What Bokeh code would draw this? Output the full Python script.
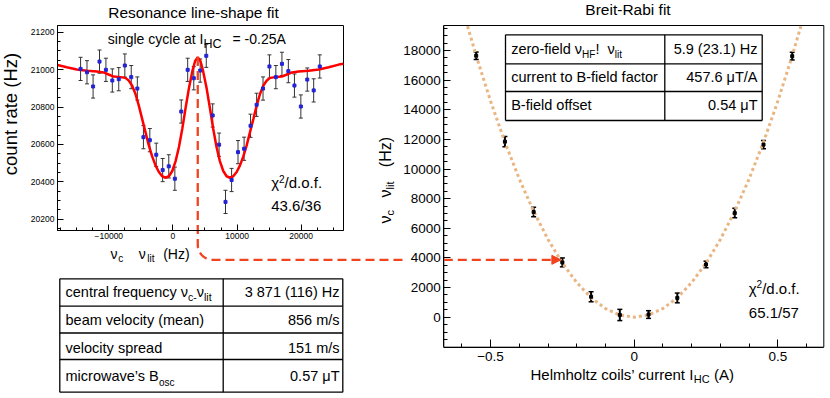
import math
from bokeh.plotting import figure
from bokeh.models import (Range1d, Label, Arrow, NormalHead, Whisker, TeeHead,
                          ColumnDataSource, SingleIntervalTicker, LinearAxis)
from bokeh.embed import file_html
from bokeh.resources import INLINE

FONT = "Liberation Sans"

# ---------------- left panel: resonance line shape ----------------
res_freq = [-14400, -13400, -12450, -11450, -10450, -9450, -8450, -7500, -6500, -5550,
            -4600, -3600, -2600, -1600, -650, 300, 1300, 2300, 3250, 4250,
            5200, 6200, 7200, 8200, 9150, 10150, 11100, 12100, 13050, 14050,
            15050, 16050, 17000, 18000, 18950, 19950, 20950, 21950, 22900]
res_rate = [21004, 20986, 20910, 21043, 20999, 20942, 20949, 21022, 20960, 20899,
            20639, 20623, 20545, 20463, 20483, 20417, 20776, 20999, 20954, 20995,
            21074, 20755, 20599, 20293, 20410, 20559, 20577, 20700, 20812, 20899,
            21017, 20960, 21031, 20992, 20915, 20803, 20947, 20889, 21017]
res_err = [62] * len(res_freq)

fit_freq = [-18000, -16550, -14990, -13420, -11850, -10810, -10030, -9240, -8200, -7420,
            -6890, -6370, -5850, -5330, -4800, -4280, -3760, -3240, -2720, -2190,
            -1670, -1150, -630, -100, 420, 940, 1460, 1980, 2510, 3030, 3450, 3871,
            4300, 4710, 5240, 5760, 6280, 6800, 7320, 7850, 8370, 8890,
            9410, 9940, 10460, 10980, 11500, 12020, 12550, 13070, 13590, 14110,
            14640, 15160, 15940, 16990, 17770, 18550, 19600, 21160, 22730, 24300, 25860, 26600]
fit_rate = [21025, 21013, 21001, 20994, 20990, 20985, 20974, 20963, 20960, 20956,
            20942, 20915, 20871, 20809, 20737, 20666, 20595, 20536, 20488, 20453,
            20430, 20422, 20430, 20458, 20511, 20586, 20684, 20796, 20903, 20992, 21045, 21067,
            21045, 20992, 20903, 20796, 20684, 20586, 20511, 20458, 20430, 20422,
            20430, 20453, 20488, 20536, 20595, 20666, 20737, 20809, 20871, 20915,
            20942, 20956, 20960, 20963, 20974, 20985, 20990, 20994, 21001, 21013, 21027, 21032]
center_freq = 3871
peak_rate = 21067

left_table_labels = ["central frequency", "beam velocity (mean)", "velocity spread", "microwave\u2019s B"]
left_table_values = ["3 871 (116) Hz", "856 m/s", "151 m/s", "0.57 \u03bcT"]

# ---------------- right panel: Breit-Rabi ----------------
br_current = [-0.55, -0.45, -0.35, -0.25, -0.15, -0.05, 0.05, 0.15, 0.25, 0.35, 0.45, 0.55]
br_freq = [17650, 11850, 7100, 3700, 1380, 150, 180, 1300, 3560, 7030, 11650, 17620]
br_err = [250, 350, 320, 300, 340, 380, 260, 330, 220, 320, 280, 260]

brfit_current = [-0.58, -0.55, -0.5, -0.45, -0.4, -0.35, -0.3, -0.25, -0.2, -0.15, -0.1, -0.05,
                 0.0, 0.05, 0.1, 0.15, 0.2, 0.25, 0.3, 0.35, 0.4, 0.45, 0.5, 0.55, 0.58]
brfit_freq = [19640, 17650, 14590, 11820, 9340, 7150, 5250, 3650, 2340, 1310, 585, 145,
              0, 145, 585, 1310, 2340, 3650, 5250, 7150, 9340, 11820, 14590, 17650, 19640]

right_table_labels = ["zero-field", "current to B-field factor", "B-field offset"]
right_table_values = ["5.9 (23.1) Hz", "457.6 \u03bcT/A", "0.54 \u03bcT"]

# ---------------- canvas & panel geometry (pixels) ----------------
CW, CH = 830, 398
L_BOX = (57, 343, 25, 230)        # left, right, top, bottom
R_BOX = (443.3, 823.3, 25, 346.7)
L_X = (-18000, 26600)
L_Y = (20140, 21236)
R_X = (-0.6627, 0.6599)
R_Y = (-2025, 19690)


def ext_range(v0, v1, p0, p1, c0, c1):
    s = (v1 - v0) / (p1 - p0)
    return Range1d(start=v0 + (c0 - p0) * s, end=v0 + (c1 - p0) * s)


def to_px(v, v0, v1, p0, p1):
    return p0 + (v - v0) * (p1 - p0) / (v1 - v0)


W = {' ': 278, '!': 278, '(': 333, ')': 333, '-': 333, '.': 278, '/': 278, '=': 584,
     'A': 667, 'B': 667, 'C': 722, 'F': 611, 'H': 722, 'I': 278, 'R': 722, 'T': 611,
     '\u2019': 222, 'a': 556, 'b': 556, 'c': 500, 'd': 556, 'e': 556, 'f': 278, 'g': 556,
     'h': 556, 'i': 222, 'l': 222, 'm': 833, 'n': 556, 'o': 556, 'p': 556, 'q': 556,
     'r': 333, 's': 500, 't': 278, 'u': 556, 'v': 500, 'w': 722, 'y': 500, 'z': 500,
     '\u03bd': 500, '\u03c7': 520, '\u03bc': 576}


def tw(s, size):
    return sum(W.get(ch, 556) for ch in s) * size / 1000.0


p = figure(width=CW, height=CH, x_range=Range1d(0, CW), y_range=Range1d(CH, 0),
           x_axis_type=None, y_axis_type=None, output_backend="svg",
           toolbar_location=None, title=None, min_border=0)
p.outline_line_color = None
p.background_fill_color = "white"
p.border_fill_color = "white"
p.extra_x_ranges = {
    "lx": ext_range(L_X[0], L_X[1], L_BOX[0], L_BOX[1], 0, CW),
    "rx": ext_range(R_X[0], R_X[1], R_BOX[0], R_BOX[1], 0, CW),
}
p.extra_y_ranges = {
    "ly": ext_range(L_Y[0], L_Y[1], L_BOX[3], L_BOX[2], CH, 0),
    "ry": ext_range(R_Y[0], R_Y[1], R_BOX[3], R_BOX[2], CH, 0),
}

BASE_FIX = 0.42  # renderer places the alphabetic baseline lower by about this many em


def lab(x, y, text, size, align="left", angle=0.0, color="black"):
    if angle == 0.0:
        y = y - BASE_FIX * size
    else:
        x = x - BASE_FIX * size
    p.add_layout(Label(x=x, y=y, text=text, text_font=FONT, text_font_size=f"{size}px",
                       text_align=align, text_baseline="alphabetic", angle=angle,
                       text_color=color))


def runs(x, y, parts, angle=0.0):
    pos = 0.0
    for text, size, shift in parts:
        stripped = text.lstrip(" ")
        pos += tw(" " * (len(text) - len(stripped)), size)
        if stripped:
            if angle == 0.0:
                lab(x + pos, y + shift, stripped, size)
            else:
                lab(x + shift, y - pos, stripped, size, angle=angle)
        pos += tw(stripped, size)


def style_axis(ax, size, tick_in, minor_in, standoff):
    ax.major_label_text_font = FONT
    ax.major_label_text_font_size = f"{size}px"
    ax.major_label_text_color = "black"
    ax.major_tick_in = tick_in
    ax.major_tick_out = 0
    ax.minor_tick_in = minor_in
    ax.minor_tick_out = 0
    ax.major_label_standoff = standoff
    ax.axis_line_color = "black"
    ax.major_tick_line_color = "black"
    ax.minor_tick_line_color = "black"


# ---------------- panel frames ----------------
for (bl, br, bt, bb) in (L_BOX, R_BOX):
    p.quad(left=[bl], right=[br], top=[bt], bottom=[bb], fill_color=None,
           line_color="black", line_width=1)

# ---------------- axes (fixed inside the single canvas) ----------------
ax = LinearAxis(x_range_name="lx", fixed_location=L_BOX[3], bounds=L_X,
                ticker=SingleIntervalTicker(interval=10000, num_minor_ticks=4))
style_axis(ax, 8.5, 6, 3, 2)
p.add_layout(ax, "below")
ax = LinearAxis(y_range_name="ly", fixed_location=L_BOX[0], bounds=L_Y,
                ticker=SingleIntervalTicker(interval=200, num_minor_ticks=4))
style_axis(ax, 8.5, 6, 3, 3)
p.add_layout(ax, "left")
ax = LinearAxis(x_range_name="rx", fixed_location=R_BOX[3], bounds=R_X,
                ticker=SingleIntervalTicker(interval=0.5, num_minor_ticks=5))
style_axis(ax, 13.5, 8, 4, 5)
p.add_layout(ax, "below")
ax = LinearAxis(y_range_name="ry", fixed_location=R_BOX[0], bounds=(-1990, R_Y[1]),
                ticker=SingleIntervalTicker(interval=2000, num_minor_ticks=4))
style_axis(ax, 13.5, 7, 4, 3)
p.add_layout(ax, "left")

# ---------------- left panel data ----------------
srcL = ColumnDataSource(dict(x=res_freq, y=res_rate,
                             lo=[r - e for r, e in zip(res_rate, res_err)],
                             hi=[r + e for r, e in zip(res_rate, res_err)]))
p.line(fit_freq, fit_rate, line_color="#ff0000", line_width=2.5,
       x_range_name="lx", y_range_name="ly")
p.add_layout(Whisker(source=srcL, base="x", lower="lo", upper="hi", dimension="height",
                     line_color="#333333", line_width=1, x_range_name="lx", y_range_name="ly",
                     lower_head=TeeHead(size=4, line_color="#333333", line_width=1),
                     upper_head=TeeHead(size=4, line_color="#333333", line_width=1)))
p.scatter(x="x", y="y", source=srcL, marker="square", size=3, color="#2323d6",
          x_range_name="lx", y_range_name="ly")

# ---------------- right panel data ----------------
p.line(brfit_current, brfit_freq, line_color="#e9b582", line_width=3, line_dash="3 3",
       x_range_name="rx", y_range_name="ry")
srcR = ColumnDataSource(dict(x=br_current, y=br_freq,
                             lo=[f - e for f, e in zip(br_freq, br_err)],
                             hi=[f + e for f, e in zip(br_freq, br_err)]))
p.add_layout(Whisker(source=srcR, base="x", lower="lo", upper="hi", dimension="height",
                     line_color="black", line_width=2, x_range_name="rx", y_range_name="ry",
                     lower_head=TeeHead(size=5, line_color="black", line_width=1.5),
                     upper_head=TeeHead(size=5, line_color="black", line_width=1.5)))
p.scatter(x="x", y="y", source=srcR, marker="square", size=3, color="black",
          x_range_name="rx", y_range_name="ry")

# ---------------- connector: central frequency -> Breit-Rabi point ----------------
RED_ARROW = "#f2431f"
xv = to_px(center_freq, L_X[0], L_X[1], L_BOX[0], L_BOX[1])
ytop = to_px(peak_rate, L_Y[0], L_Y[1], L_BOX[3], L_BOX[2])
yh = to_px(center_freq, R_Y[0], R_Y[1], R_BOX[3], R_BOX[2])
xtip = to_px(br_current[3], R_X[0], R_X[1], R_BOX[0], R_BOX[1]) - 1.5
rr = 15
cxs, cys = [xv, xv], [ytop, yh - rr]
for a in range(0, 91, 10):
    t = math.radians(a)
    cxs.append(xv + rr - rr * math.cos(t))
    cys.append(yh - rr + rr * math.sin(t))
cxs += [405, float("nan"), R_BOX[0], xtip - 8]
cys += [yh, float("nan"), yh, yh]
p.line(cxs, cys, line_color=RED_ARROW, line_width=2.3, line_dash="9 5")
p.add_layout(Arrow(x_start=xtip - 9, y_start=yh, x_end=xtip, y_end=yh,
                   line_color=RED_ARROW, line_width=2,
                   end=NormalHead(size=9, fill_color=RED_ARROW, line_color=RED_ARROW,
                                  line_width=1)))

# ---------------- texts: left panel ----------------
lab(193, 19, "Resonance line-shape fit", 15.5, align="center")
lab(107.3, 44.3, "single cycle at I", 14)
lab(203, 48.3, "HC", 12.5)
lab(232, 44.3, "= -0.25A", 14)
runs(270.7, 188.3, [("\u03c7", 15, 0), ("2", 10, -6), ("/d.o.f.", 15, 0)])
lab(270.7, 211.7, "43.6/36", 15)
lab(18, 113.5, "count rate (Hz)", 18.5, align="center", angle=math.pi / 2)
lab(110, 259.3, "\u03bd", 14)
lab(117.7, 262.5, "c", 10)
lab(138.3, 259.3, "\u03bd", 14)
lab(146.7, 262.5, "lit", 10)
lab(162.7, 259.3, "(Hz)", 14)

# left table
tx = [59.3, 222.7, 342.3]
ty = [278.3, 305.7, 332.5, 359, 391.7]
p.segment(x0=[tx[0]] * len(ty), y0=ty, x1=[tx[2]] * len(ty), y1=ty,
          line_color="black", line_width=1.3)
p.segment(x0=tx, y0=[ty[0]] * 3, x1=tx, y1=[ty[-1]] * 3, line_color="black", line_width=1.3)
base_L = [297.7, 325.7, 354.0, 382.0]
for i, (t, v) in enumerate(zip(left_table_labels, left_table_values)):
    if i == 0:
        runs(65, base_L[i], [(t + " \u03bd", 14.5, 0), ("c-", 10.5, 3.5),
                             ("\u03bd", 14.5, 0), ("lit", 10.5, 3.5)])
    elif i == 3:
        runs(65, base_L[i], [(t, 14.5, 0), ("osc", 10, 4)])
    else:
        lab(65, base_L[i], t, 14.5)
    lab(339, base_L[i], v, 14.5, align="right")

# ---------------- texts: right panel ----------------
lab(627.5, 16, "Breit-Rabi fit", 15.5, align="center")
runs(748.3, 294, [("\u03c7", 15, 0), ("2", 10, -6), ("/d.o.f.", 15, 0)])
lab(748.3, 318.3, "65.1/57", 15)
runs(530, 380, [("Helmholtz coils\u2019 current I", 15, 0), ("HC", 11, 3), (" (A)", 15, 0)])
lab(391.5, 223, "\u03bd", 16, angle=math.pi / 2)
lab(394.5, 215, "c", 11, angle=math.pi / 2)
lab(391.5, 197, "\u03bd", 16, angle=math.pi / 2)
lab(394.5, 189, "lit", 11, angle=math.pi / 2)
lab(391.5, 166.7, "(Hz)", 16, angle=math.pi / 2)

# right table
rx = [505, 664.3, 761.7]
ry = [34.3, 63.3, 91, 120]
p.segment(x0=[rx[0]] * len(ry), y0=ry, x1=[rx[2]] * len(ry), y1=ry,
          line_color="black", line_width=1.3)
p.segment(x0=rx, y0=[ry[0]] * 3, x1=rx, y1=[ry[-1]] * 3, line_color="black", line_width=1.3)
base_R = [54.3, 82.7, 111.0]
for i, (t, v) in enumerate(zip(right_table_labels, right_table_values)):
    if i == 0:
        runs(510.7, base_R[i], [(t + " \u03bd", 14.5, 0), ("HF", 10, 3.5), ("!", 14.5, 0),
                                ("  \u03bd", 14.5, 0), ("lit", 10, 3.5)])
    else:
        lab(510.7, base_R[i], t, 14.5)
    lab(757, base_R[i], v, 14.5, align="right")

open("out.html", "w").write(file_html(p, INLINE))
